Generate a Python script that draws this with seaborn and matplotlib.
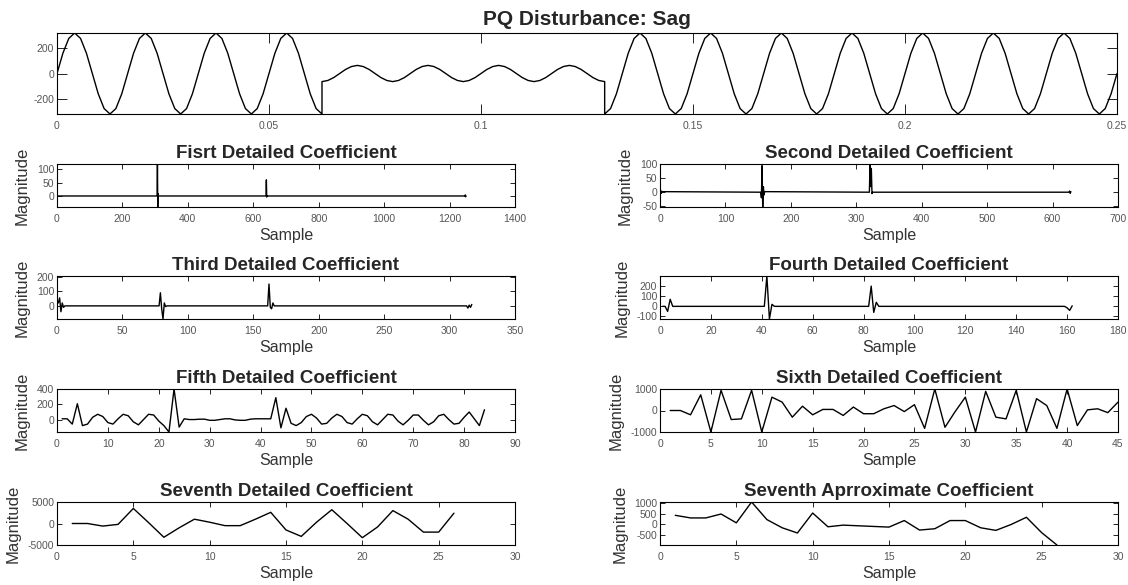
import matplotlib
matplotlib.use("Agg")
import matplotlib.pyplot as plt
import numpy as np
import pandas as pd
import seaborn as sns

# ---- PQ disturbance (sag) signal, one sample every 1/720 s ----
t_step = 1 / 720
sag_start, sag_end = 45, 93          # sample index where the sag begins / ends

pre_sag = [0, 160, 277, 320, 277, 160, 0, -160, -277, -320, -277, -160,
           0, 160, 277, 320, 277, 160, 0, -160, -277, -320, -277, -160,
           0, 160, 277, 320, 277, 160, 0, -160, -277, -320, -277, -160,
           0, 160, 277, 320, 277, 160, 0, -160, -277, -320]
sag = [-64, -55, -32,
       0, 32, 55, 64, 55, 32, 0, -32, -55, -64, -55, -32,
       0, 32, 55, 64, 55, 32, 0, -32, -55, -64, -55, -32,
       0, 32, 55, 64, 55, 32, 0, -32, -55, -64, -55, -32,
       0, 32, 55, 64, 55, 32, 0, -32, -55, -64]
post_sag = [-320, -277, -160,
            0, 160, 277, 320, 277, 160, 0, -160, -277, -320, -277, -160,
            0, 160, 277, 320, 277, 160, 0, -160, -277, -320, -277, -160,
            0, 160, 277, 320, 277, 160, 0, -160, -277, -320, -277, -160,
            0, 160, 277, 320, 277, 160, 0, -160, -277, -320, -277, -160,
            0, 160, 277, 320, 277, 160, 0, -160, -277, -320, -277, -160,
            0, 160, 277, 320, 277, 160, 0, -160, -277, -320, -277, -160,
            0, 160, 277, 320, 277, 160, 0, -160, -277, -320, -277, -160,
            0]

time_ticks = [0, 0.05, 0.1, 0.15, 0.2, 0.25]
time_labels = ["0", "0.05", "0.1", "0.15", "0.2", "0.25"]

# ---- wavelet coefficients (sparse ones kept as breakpoints: sample, value) ----
d1_n = [1, 306, 307, 308, 309, 310, 639, 640, 641, 642, 1247, 1248, 1249, 1250]
d1_v = [0, 0, 119, -41, 8, 0, 0, 60, -4, 0, 0, 4, -3, 0]

d2_n = [1, 2, 3, 154, 155, 156, 157, 158, 159, 160, 320, 321, 322, 323, 324, 325,
        625, 626, 627, 628]
d2_v = [8, -4, 2, 0, -20, 95, -53, 20, -10, 2, 0, 101, 20, 85, -5, 0,
        0, 4, -4, 2]

d3_n = [1, 2, 3, 4, 5, 6, 78, 79, 80, 81, 82, 83, 84, 161, 162, 163, 164, 165, 166,
        313, 314, 315, 316, 317]
d3_v = [20, 55, -40, 20, -10, 0, 0, 90, -20, -90, 20, -5, 0, 0, 150, -10, -20, 20, 0,
        0, -15, 5, -10, 10]

d4_n = [1, 2, 3, 4, 5, 41, 42, 43, 44, 45, 82, 83, 84, 85, 86, 159, 160, 161, 162]
d4_v = [0, 0, -50, 70, 0, 0, 300, -125, 20, 0, 0, 200, -60, 40, 0, 0, -15, -40, 5]

d5 = [10, 10, -60, 210, -80, -60, 30, 70, 40, -40, -60, 10, 70, 50, -30, -70, 0, 70,
      60, -20, -80, -165, 405, -100, 10, 0, 0, 5, 5, -10, -10, 0, 10, 10, -5, -10,
      -10, 5, 10, 10, 10, 10, 290, -110, 150, -50, -80, -40, 40, 70, 20, -60, -50,
      20, 70, 40, -40, -60, 10, 70, 50, -30, -70, 0, 70, 60, -20, -70, -10, 60, 60,
      -10, -70, -30, 50, 70, 0, -60, -50, 30, 100, 10, -80, 130]

d6 = [0, 0, -200, 730, -1000, 940, -420, -390, 940, -1000, 620, 390, -310, 200,
      -200, 50, 50, -230, 160, -150, -150, 80, 230, -50, 270, -830, 1000, -780, -50,
      620, -1000, 890, -310, -390, 940, -1000, 550, 230, -830, 1000, -700, 30, 80,
      -100, 390]

d7 = [0, 0, -600, -200, 3500, 200, -3200, -1000, 1000, 300, -500, -500, 1000, 2600,
      -1500, -3000, 300, 3200, 0, -3300, -800, 3000, 1000, -2000, -2000, 2400]

a7 = [420, 300, 300, 480, 75, 1030, 225, -150, -390, 525, -105, -30, -60, -90, -120,
      180, -255, -195, 180, 180, -150, -270, 0, 330, -375, -940]

panels = [
    ("Fisrt Detailed Coefficient", d1_n, d1_v, (0, 1400), np.arange(0, 1401, 200), (-41, 119), [0, 50, 100]),
    ("Second Detailed Coefficient", d2_n, d2_v, (0, 700), np.arange(0, 701, 100), (-53, 101), [-50, 0, 50, 100]),
    ("Third Detailed Coefficient", d3_n, d3_v, (0, 350), np.arange(0, 351, 50), (-90, 205), [0, 100, 200]),
    ("Fourth Detailed Coefficient", d4_n, d4_v, (0, 180), np.arange(0, 181, 20), (-125, 300), [-100, 0, 100, 200]),
    ("Fifth Detailed Coefficient", list(range(1, len(d5) + 1)), d5, (0, 90), np.arange(0, 91, 10), (-165, 405), [0, 200, 400]),
    ("Sixth Detailed Coefficient", list(range(1, len(d6) + 1)), d6, (0, 45), np.arange(0, 46, 5), (-1000, 1000), [-1000, 0, 1000]),
    ("Seventh Detailed Coefficient", list(range(1, len(d7) + 1)), d7, (0, 30), np.arange(0, 31, 5), (-5000, 5000), [-5000, 0, 5000]),
    ("Seventh Aprroximate Coefficient", list(range(1, len(a7) + 1)), a7, (0, 30), np.arange(0, 31, 5), (-940, 1030), [-500, 0, 500, 1000]),
]

sns.set_style("white")
plt.rcParams["font.family"] = ["Liberation Sans", "DejaVu Sans"]
plt.rcParams["axes.unicode_minus"] = False

W, H = 1128, 585
fig = plt.figure(figsize=(W / 100, H / 100), dpi=100)


def style(ax, tick_len):
    for sp in ax.spines.values():
        sp.set_visible(True)
        sp.set_color("black")
        sp.set_linewidth(0.8)
    ax.tick_params(direction="in", top=True, right=True, bottom=True, left=True,
                   length=tick_len, width=0.6, color="black",
                   labelsize=7.5, labelcolor="#555555")
    ax.tick_params(axis="x", pad=5)
    ax.tick_params(axis="y", pad=2)


# top signal
sig = pd.DataFrame({
    "t": np.concatenate([np.arange(0, sag_start + 1),
                         np.arange(sag_start, sag_end + 1),
                         np.arange(sag_end, sag_end + len(post_sag))]) * t_step,
    "v": pre_sag + sag + post_sag,
})
ax = fig.add_axes([57 / W, 1 - 114 / H, 1060 / W, 81 / H])
sns.lineplot(data=sig, x="t", y="v", ax=ax, color="black", linewidth=1.0,
             estimator=None, sort=False)
ax.set_xlim(0, 0.25)
ax.set_ylim(-320, 320)
ax.set_xticks(time_ticks)
ax.set_xticklabels(time_labels)
ax.set_yticks([-200, 0, 200])
ax.set_xlabel("")
ax.set_ylabel("")
ax.set_title("PQ Disturbance: Sag", fontsize=15, fontweight="bold", pad=6)
style(ax, 7.5)

col_left = [57, 660]
row_top = [164, 276, 389, 502]
for i, (title, xs, ys, xl, xt, yl, yt) in enumerate(panels):
    r, c = divmod(i, 2)
    ax = fig.add_axes([col_left[c] / W, 1 - (row_top[r] + 43) / H, 458 / W, 43 / H])
    sns.lineplot(x=xs, y=ys, ax=ax, color="black", linewidth=1.0,
                 estimator=None, sort=False)
    ax.set_xlim(*xl)
    ax.set_ylim(*yl)
    ax.set_xticks(xt)
    ax.set_yticks(yt)
    ax.set_title(title, fontsize=13.5, fontweight="bold", pad=4)
    ax.set_xlabel("Sample", fontsize=11.5, color="#333333", labelpad=3)
    ax.set_ylabel("Magnitude", fontsize=12, color="#333333", labelpad=5)
    style(ax, 3.3)

fig.savefig("out.png", dpi=100)
